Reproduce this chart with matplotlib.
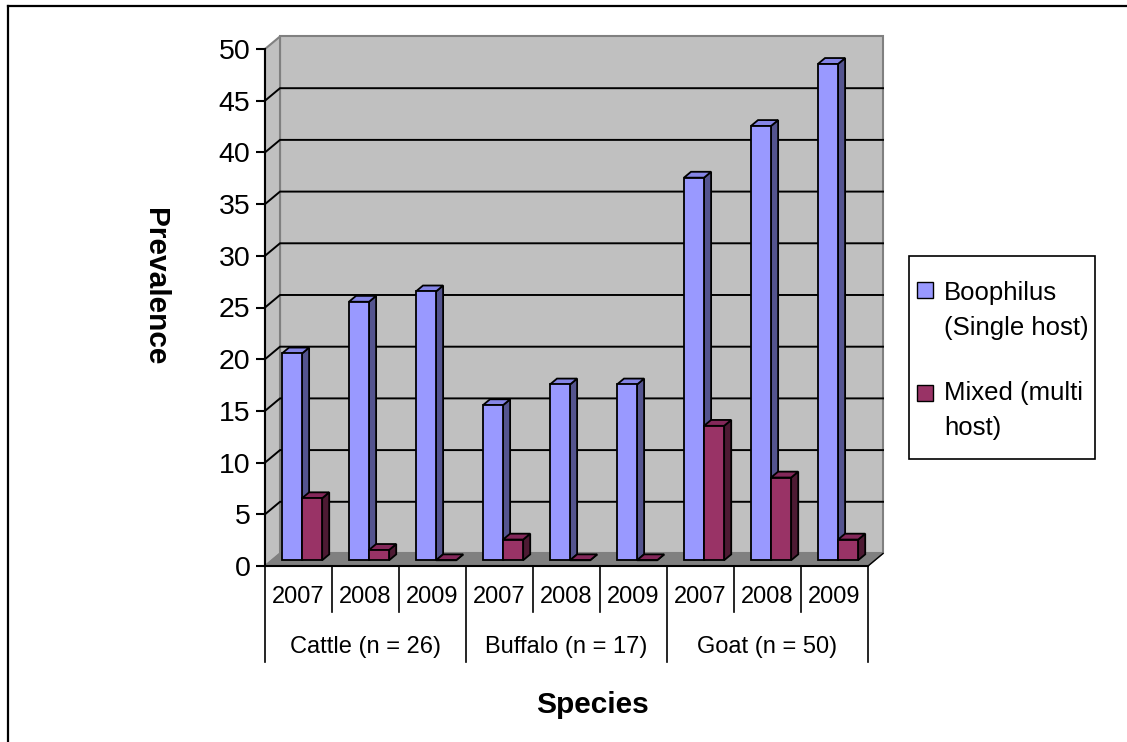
"""
Tick prevalence by species and year, drawn as Excel-style 3D columns
"""
import matplotlib
matplotlib.use('Agg')
import matplotlib.pyplot as plt
from matplotlib.patches import Polygon, Rectangle
from matplotlib.lines import Line2D

plt.rcParams['font.family'] = ['Liberation Sans', 'DejaVu Sans']

years = ['2007', '2008', '2009']
species = ['Cattle (n = 26)', 'Buffalo (n = 17)', 'Goat (n = 50)']
boophilus = [20, 25, 26, 15, 17, 17, 37, 42, 48]
mixed = [6, 1, 0, 2, 0, 0, 13, 8, 2]
legend_lines = [['Boophilus', '(Single host)'], ['Mixed (multi', 'host)']]
y_ticks = list(range(0, 51, 5))

W, H = 1127, 742
# depth offsets of the back plane, in data units
DX, DY = 0.224, 1.21
# bars sit between these depth fractions
Z0, Z1 = 0.46, 0.93
BAR_W = 0.3
BAR_START = 0.15
EDGE_LW = 1.3

colors = {
    'blue': ('#9999ff', '#8585e6', '#54548f'),
    'maroon': ('#993366', '#84285a', '#4d1a33'),
}


def proj(x, y, z):
    return (x + z * DX, y + z * DY)


def fx(px):
    return px / W


def fy(py):
    return 1 - py / H


def draw_bar(ax, x, v, cols, zo):
    front, top, side = cols
    xl, xr = x, x + BAR_W
    ax.bar(proj(xl, 0, Z0)[0], v, width=BAR_W, bottom=Z0 * DY, align='edge',
           color=front, edgecolor='black', linewidth=EDGE_LW, zorder=zo + 0.002,
           clip_on=False)
    side_pts = [proj(xr, 0, Z0), proj(xr, v, Z0), proj(xr, v, Z1), proj(xr, 0, Z1)]
    top_pts = [proj(xl, v, Z0), proj(xr, v, Z0), proj(xr, v, Z1), proj(xl, v, Z1)]
    ax.add_patch(Polygon(side_pts, closed=True, facecolor=side, edgecolor='black',
                         linewidth=EDGE_LW, zorder=zo, clip_on=False))
    ax.add_patch(Polygon(top_pts, closed=True, facecolor=top, edgecolor='black',
                         linewidth=EDGE_LW, zorder=zo + 0.001, clip_on=False))


fig = plt.figure(figsize=(W / 100, H / 100), dpi=100)

# axes placed so that x=0 -> 265px, 9 -> 868px; y=0 -> 566px, 50 -> 49px
xmin, xmax = -0.2, 9.5
ymin, ymax = -10, 52.5
px_cat = 67.0
px_unit = 10.34
left = 265 + xmin * px_cat
bottom_py = 566 - ymin * px_unit
ax = fig.add_axes([fx(left), fy(bottom_py),
                   (xmax - xmin) * px_cat / W, (ymax - ymin) * px_unit / H])
ax.set_xlim(xmin, xmax)
ax.set_ylim(ymin, ymax)
ax.patch.set_visible(False)
for s in ['top', 'right', 'bottom']:
    ax.spines[s].set_visible(False)
ax.spines['left'].set_position(('data', 0))
ax.spines['left'].set_bounds(0, 50)
ax.spines['left'].set_linewidth(1.5)
ax.spines['left'].set_zorder(6)
ax.set_xticks([])
ax.set_yticks(y_ticks)
ax.tick_params(axis='y', length=6.5, width=1.5, pad=4, labelsize=20.5)

n = len(boophilus)
wall_col = '#c0c0c0'
edge_gray = '#808080'

# back wall and side wall
ax.add_patch(Polygon([proj(0, 0, 1), proj(n, 0, 1), proj(n, 50, 1), proj(0, 50, 1)],
                     closed=True, facecolor=wall_col, edgecolor=edge_gray,
                     linewidth=1.5, zorder=1))
ax.add_patch(Polygon([proj(0, 0, 0), proj(0, 0, 1), proj(0, 50, 1), proj(0, 50, 0)],
                     closed=True, facecolor=wall_col, edgecolor=edge_gray,
                     linewidth=1.5, zorder=1))
# floor
ax.add_patch(Polygon([proj(0, 0, 0), proj(n, 0, 0), proj(n, 0, 1), proj(0, 0, 1)],
                     closed=True, facecolor=edge_gray, edgecolor=edge_gray,
                     linewidth=1.0, zorder=1.5))
ax.plot(*zip(proj(n, 0, 0), proj(n, 0, 1)), color='black', lw=1.0, zorder=1.6)

# gridlines on both walls
for t in y_ticks[1:-1]:
    a, b, c = proj(0, t, 0), proj(0, t, 1), proj(n, t, 1)
    ax.plot([a[0], b[0], c[0]], [a[1], b[1], c[1]], color='black', lw=1.4,
            zorder=2, solid_joinstyle='miter')

# columns
zo = 3.0
for i in range(n):
    x = i + BAR_START
    draw_bar(ax, x, boophilus[i], colors['blue'], zo)
    zo += 0.01
    draw_bar(ax, x + BAR_W, mixed[i], colors['maroon'], zo)
    zo += 0.01

# category table under the floor
ax.plot([0, n], [0, 0], color='black', lw=1.5, zorder=5, clip_on=False)
for i in range(n + 1):
    low = -9.28 if i % 3 == 0 else -4.45
    ax.plot([i, i], [0, low], color='black', lw=1.2, zorder=5, clip_on=False)
for i in range(n):
    ax.text(i + 0.5, -3.0, years[i % 3], ha='center', va='center', fontsize=17)
for g, name in enumerate(species):
    ax.text(3 * g + 1.5, -7.83, name, ha='center', va='center', fontsize=17)

# axis titles
fig.text(fx(155), fy(287), 'Prevalence', rotation=-90, ha='center', va='center',
         fontsize=21.5, fontweight='bold')
fig.text(fx(592), fy(705), 'Species', ha='center', va='center',
         fontsize=21.5, fontweight='bold')

# legend
fig.add_artist(Rectangle((fx(909), fy(459)), fx(1095) - fx(909), fy(256) - fy(459),
                         transform=fig.transFigure, facecolor='white',
                         edgecolor='black', linewidth=1.2))
for (lines, key, sq_top, txt_y) in [(legend_lines[0], 'blue', 282, 293),
                                    (legend_lines[1], 'maroon', 385, 393)]:
    fig.add_artist(Rectangle((fx(917), fy(sq_top + 16)), 16 / W, 16 / H,
                             transform=fig.transFigure, facecolor=colors[key][0],
                             edgecolor='black', linewidth=1.0))
    for k, line in enumerate(lines):
        fig.text(fx(944), fy(txt_y + 35 * k), line, ha='left', va='center',
                 fontsize=18.5)

# outer frame (top and left edges)
fig.add_artist(Line2D([fx(7.5), 1], [fy(6), fy(6)], transform=fig.transFigure,
                      color='black', lw=1.6))
fig.add_artist(Line2D([fx(7.5), fx(7.5)], [fy(6), 0], transform=fig.transFigure,
                      color='black', lw=1.6))

fig.savefig('out.png', dpi=100)
